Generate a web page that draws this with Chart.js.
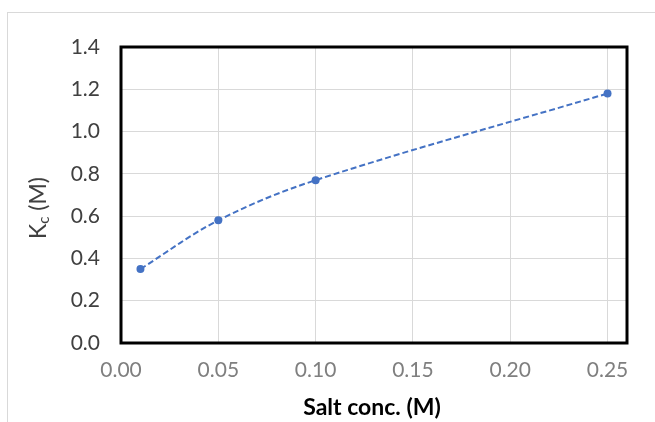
<!DOCTYPE html>
<html>
<head>
<meta charset="utf-8">
<script src="https://cdn.jsdelivr.net/npm/chart.js@4.4.1/dist/chart.umd.min.js"></script>
<style>
  html, body { margin: 0; padding: 0; background: #ffffff; }
  #wrap { width: 655px; height: 422px; position: relative; }
</style>
</head>
<body>
<div id="wrap"><canvas id="c" width="655" height="422"></canvas></div>
<script>
// Salt concentration (M) and the measured K_c (M)
const saltConc = [0.01, 0.05, 0.10, 0.25];
const kcValues = [0.35, 0.58, 0.77, 1.18];

// Axis ranges and tick spacing
const xRange = [0, 0.26];
const xStep = 0.05;
const yRange = [0, 1.4];
const yStep = 0.2;

const xTitle = 'Salt conc. (M)';
const yTitleMain = 'K';
const yTitleSub = 'c';
const yTitleRest = ' (M)';

const FONT = 'Lato, "Open Sans", sans-serif';

const framePlugin = {
  id: 'frame',
  beforeDraw(chart) {
    const ctx = chart.ctx;
    ctx.save();
    ctx.fillStyle = '#ffffff';
    ctx.fillRect(0, 0, chart.width, chart.height);
    // light outer chart border
    ctx.strokeStyle = '#d9d9d9';
    ctx.lineWidth = 1;
    ctx.strokeRect(7.5, 12.5, chart.width + 20, chart.height + 20);
    ctx.restore();
  },
  afterDatasetsDraw(chart) {
    const ctx = chart.ctx;
    const a = chart.chartArea;
    ctx.save();
    // plot area outline
    ctx.strokeStyle = '#000000';
    ctx.lineWidth = 3;
    ctx.strokeRect(a.left, a.top, a.right - a.left, a.bottom - a.top);

    // x-axis title
    ctx.fillStyle = '#000000';
    ctx.font = 'bold 23px ' + FONT;
    ctx.textAlign = 'center';
    ctx.textBaseline = 'middle';
    ctx.fillText(xTitle, 372, 408);

    // y-axis title with subscript, rotated
    ctx.translate(38, 208);
    ctx.rotate(-Math.PI / 2);
    const big = '23px ' + FONT;
    const small = '15px ' + FONT;
    ctx.font = big;
    const wK = ctx.measureText(yTitleMain).width;
    const wR = ctx.measureText(yTitleRest).width;
    ctx.font = small;
    const wC = ctx.measureText(yTitleSub).width;
    const total = wK + wC + wR;
    let x = -total / 2;
    ctx.textAlign = 'left';
    ctx.textBaseline = 'alphabetic';
    ctx.fillStyle = '#404040';
    ctx.font = big;
    ctx.fillText(yTitleMain, x, 8);
    x += wK;
    ctx.font = small;
    ctx.fillText(yTitleSub, x, 11);
    x += wC;
    ctx.font = big;
    ctx.fillText(yTitleRest, x, 8);
    ctx.restore();
  }
};

new Chart(document.getElementById('c'), {
  type: 'scatter',
  data: {
    datasets: [{
      data: saltConc.map((x, i) => ({ x: x, y: kcValues[i] })),
      showLine: true,
      borderColor: '#4472C4',
      borderWidth: 2,
      borderDash: [6, 3],
      tension: 0.35,
      pointRadius: 4,
      pointHoverRadius: 4,
      pointBackgroundColor: '#4472C4',
      pointBorderColor: '#4472C4',
      pointBorderWidth: 0
    }]
  },
  options: {
    responsive: false,
    animation: false,
    events: [],
    layout: { padding: { left: 0, top: 47, right: 28, bottom: 0 } },
    plugins: { legend: { display: false }, tooltip: { enabled: false } },
    scales: {
      x: {
        type: 'linear',
        min: xRange[0],
        max: xRange[1],
        afterFit(s) { s.height = 79; },
        grid: { color: '#d9d9d9', drawTicks: false, lineWidth: 1 },
        border: { display: false },
        ticks: {
          stepSize: xStep,
          includeBounds: false,
          padding: 15,
          color: '#7f7f7f',
          font: { family: FONT, size: 21 },
          maxRotation: 0,
          callback: v => v.toFixed(2)
        }
      },
      y: {
        type: 'linear',
        min: yRange[0],
        max: yRange[1],
        afterFit(s) { s.width = 121; },
        grid: { color: '#d9d9d9', drawTicks: false, lineWidth: 1 },
        border: { display: false },
        ticks: {
          stepSize: yStep,
          padding: 21,
          color: '#404040',
          font: { family: FONT, size: 21 },
          callback: v => v.toFixed(1)
        }
      }
    }
  },
  plugins: [framePlugin]
});
</script>
</body>
</html>
